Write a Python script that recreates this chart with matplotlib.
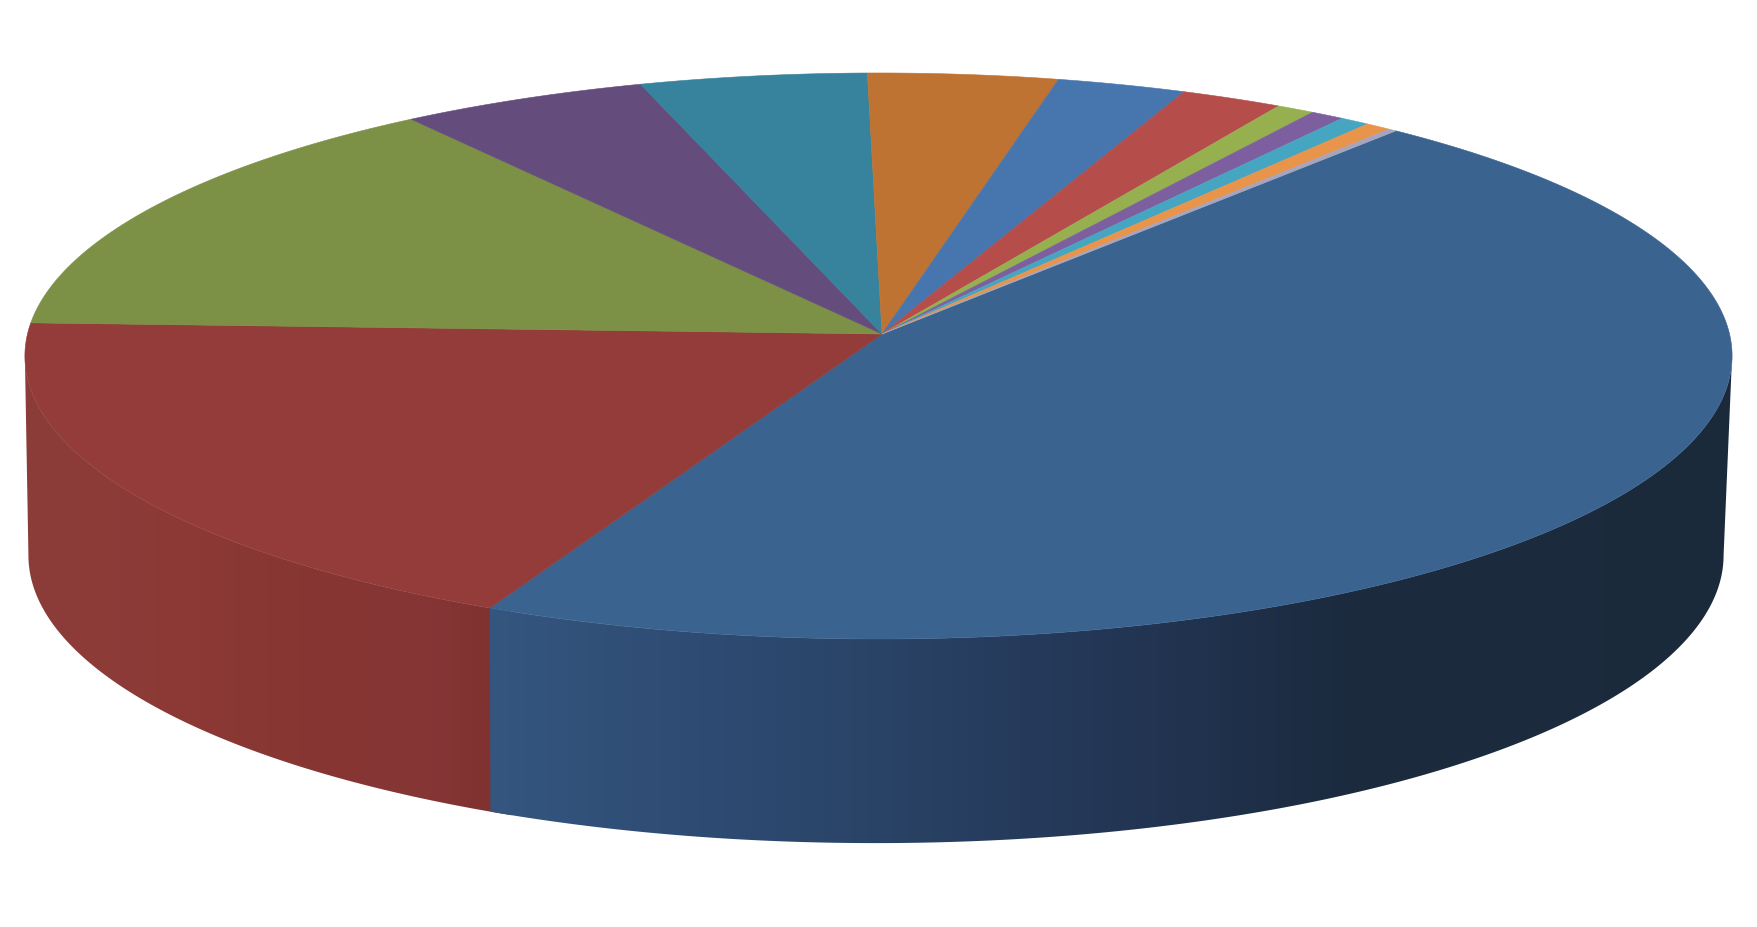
import numpy as np
import matplotlib
matplotlib.use("Agg")
import matplotlib.pyplot as plt
from matplotlib.colors import to_rgb
from matplotlib.patches import Polygon

values = [45.96, 18.60, 14.39, 5.06, 4.63, 3.88, 2.64, 2.08, 0.78, 0.69, 0.61, 0.53, 0.17]
top_colors = ["#3B638F", "#933C3A", "#7D9146", "#644C7C", "#37829C", "#BF7332", "#4776AE",
              "#B54D4A", "#96B050", "#7D5FA0", "#46A5C0", "#E8944A", "#A5A5BE"]
blue_wall_x = [490, 700, 850, 1050, 1200, 1350, 1732]
blue_wall_c = ["#34567F", "#2E4B73", "#2A4568", "#25395A", "#20324D", "#1B2A3E", "#1B2A3B"]
red_wall_x = [25, 200, 300, 430, 490]
red_wall_c = ["#8C3D39", "#8C3936", "#873632", "#853535", "#7F3230"]

START = 50.1
TOP = dict(a=851.0, b=281.3, k=0.0777, m=0.0041, cx=882.0, cy=334.0)
BOTTOM = dict(a=845.0, b=286.0, k=0.0777, m=0.0047, cx=880.0, cy=533.0)


def project(t, a, b, k, m, cx, cy):
    X, Y = np.cos(t), np.sin(t)
    w = 1 + k * Y + m * X
    return cx + a * X / w, cy - b * Y / w


def wall(ax, t0, t1, xs, cs, z):
    ts = np.linspace(t0, t1, 300)
    xt, yt = project(ts, **TOP)
    xb, yb = project(ts, **BOTTOM)
    pts = np.column_stack([np.r_[xt, xb[::-1]], np.r_[yt, yb[::-1]]])
    clip = Polygon(pts, closed=True, facecolor="none", edgecolor="none", transform=ax.transData)
    ax.add_patch(clip)
    grid = np.arange(0, 1757)
    rgb = np.array([to_rgb(c) for c in cs])
    img = np.stack([np.interp(grid, xs, rgb[:, i]) for i in range(3)], axis=-1)[None, :, :]
    im = ax.imshow(img, extent=[0, 1757, 927, 0], aspect="auto", interpolation="nearest", zorder=z)
    im.set_clip_path(clip)


fig = plt.figure(figsize=(17.57, 9.27), dpi=100, facecolor="white")
ax = fig.add_axes([0, 0, 1, 1])

sweeps = np.array(values) / sum(values) * 2 * np.pi
bounds = np.radians(START) - np.concatenate([[0], np.cumsum(sweeps)])

# the wall reaches the silhouette where the rim is widest, at sin(t) = -k
edge = np.arcsin(TOP["k"])
wall(ax, bounds[1] + np.radians(1.5), -np.pi + edge, red_wall_x, red_wall_c, 1)
wall(ax, -edge, bounds[1], blue_wall_x, blue_wall_c, 1.5)

# top face
for i in range(len(values)):
    ts = np.linspace(bounds[i], bounds[i + 1], max(3, int(sweeps[i] * 130)))
    x, y = project(ts, **TOP)
    pts = np.column_stack([np.r_[TOP["cx"], x], np.r_[TOP["cy"], y]])
    ax.add_patch(Polygon(pts, closed=True, facecolor=top_colors[i],
                         edgecolor=top_colors[i], lw=0.4, zorder=2))

ax.set_xlim(0, 1757)
ax.set_ylim(927, 0)
ax.axis("off")
fig.savefig("out.png", dpi=100, facecolor="white")
